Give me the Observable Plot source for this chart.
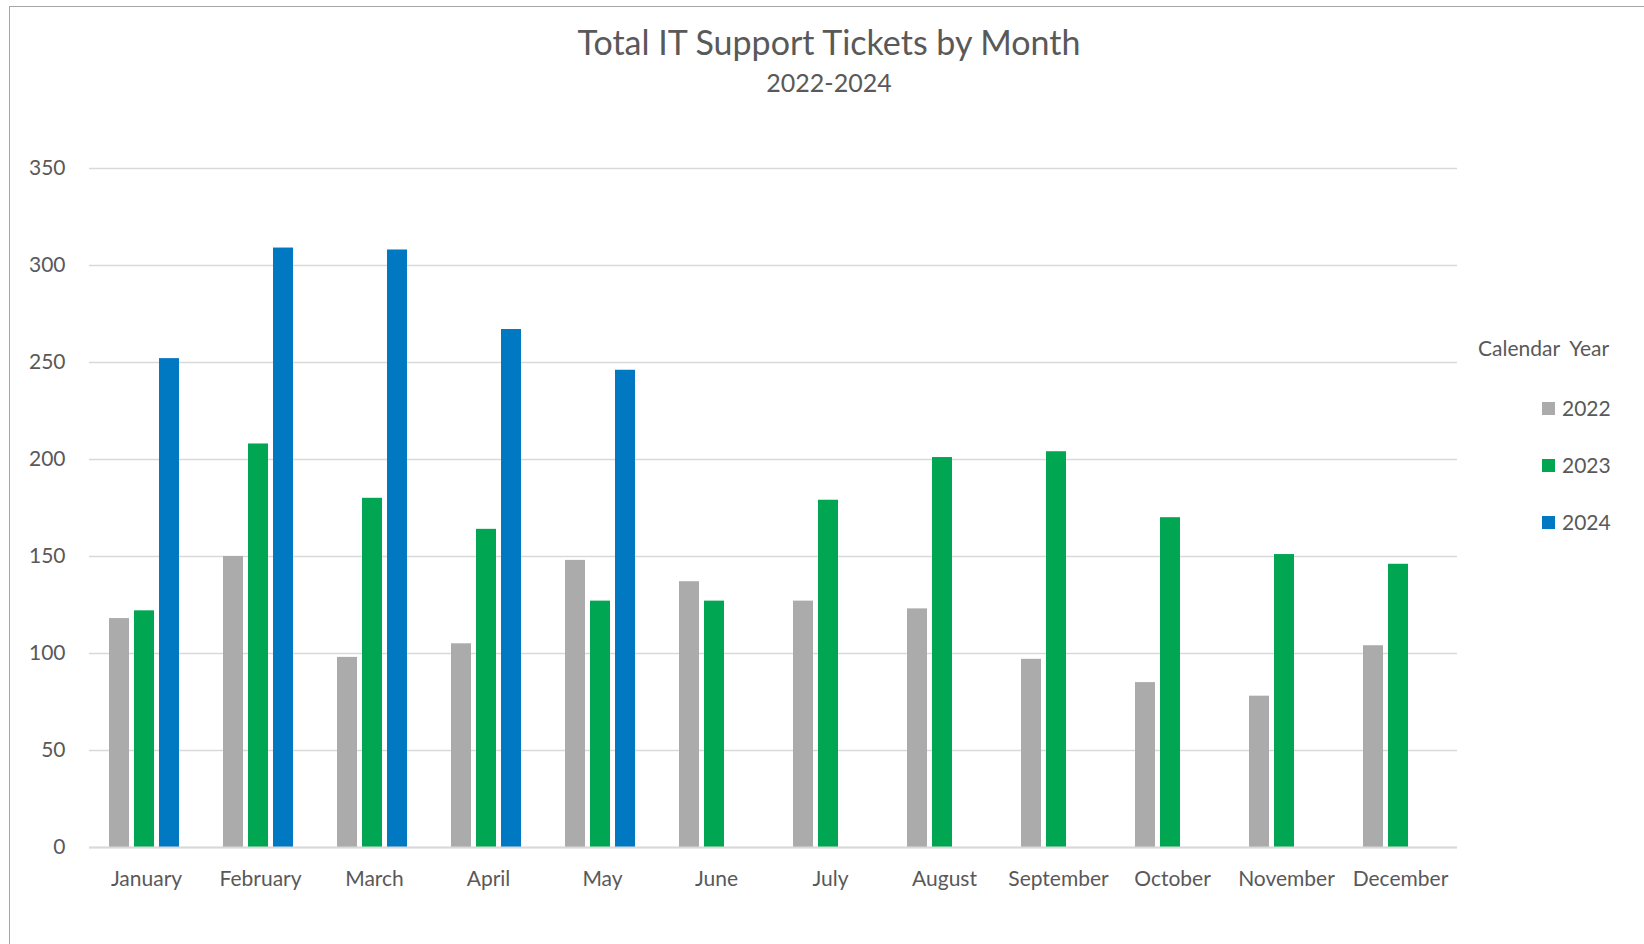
<!DOCTYPE html>
<html>
<head>
<meta charset="utf-8">
<script src="https://cdn.jsdelivr.net/npm/d3@7"></script>
<script src="https://cdn.jsdelivr.net/npm/@observablehq/plot@0.6"></script>
<style>
  html, body { margin: 0; padding: 0; background: #fff; overflow: hidden; }
  #wrap { position: relative; width: 1644px; height: 944px; font-family: Lato, "Open Sans", sans-serif; color: #595959; }
  #frame { position: absolute; left: 9px; top: 6px; width: 1700px; height: 1000px; border-left: 1.5px solid #A6A6A6; border-top: 1.5px solid #A6A6A6; }
  #title { position: absolute; left: 0; width: 1658px; text-align: center; top: 21px; font-size: 34px; line-height: 42px; }
  #subtitle { position: absolute; left: 0; width: 1658px; text-align: center; top: 66px; font-size: 25px; line-height: 32px; }
  #chart { position: absolute; left: 0; top: 140px; }
  #legend { position: absolute; left: 1478px; top: 334px; font-size: 21px; }
  .lg-title { position: absolute; left: 0; top: 0; white-space: nowrap; line-height: 28px; word-spacing: 5px; }
  .lg-item { position: absolute; left: 64px; white-space: nowrap; line-height: 28px; display: flex; align-items: center; }
  .lg-sw { width: 13px; height: 13px; margin-right: 7px; display: inline-block; }
</style>
</head>
<body>
<div id="wrap">
  <div id="frame"></div>
  <div id="title">Total IT Support Tickets by Month</div>
  <div id="subtitle">2022-2024</div>
  <div id="chart"></div>
  <div id="legend"></div>
</div>
<script>
const months = ["January","February","March","April","May","June","July","August","September","October","November","December"];
const years = ["2022","2023","2024"];
const colors = ["#ABABAB","#00A651","#0079C2"];
const v2022 = [118,150,98,105,148,137,127,123,97,85,78,104];
const v2023 = [122,208,180,164,127,127,179,201,204,170,151,146];
const v2024 = [252,309,308,267,246];
const yTicks = [0,50,100,150,200,250,300,350];
const legendTitle = "Calendar Year";

const series = [v2022, v2023, v2024];
const rows = [];
series.forEach((vals, i) => {
  vals.forEach((v, j) => rows.push({month: months[j], year: years[i], value: v}));
});

const chart = Plot.plot({
  width: 1644,
  height: 767,
  marginLeft: 89,
  marginRight: 187,
  marginTop: 28,
  marginBottom: 60,
  style: {fontFamily: "Lato, 'Open Sans', sans-serif", fontSize: "21px", color: "#595959", background: "transparent"},
  fx: {domain: months, padding: 0, label: null, tickSize: 0, tickPadding: 24, axis: "bottom"},
  x: {domain: years, paddingInner: 0.2, paddingOuter: 0.84, align: 0.45, axis: null},
  y: {domain: [0, 350], ticks: yTicks, label: null, tickSize: 0, tickPadding: 24},
  color: {domain: years, range: colors},
  marks: [
    Plot.gridY(yTicks, {stroke: "#D9D9D9", strokeOpacity: 1, strokeWidth: 1.5}),
    Plot.axisY({ticks: yTicks, tickSize: 0, tickPadding: 24, label: null}),
    Plot.barY(rows, {fx: "month", x: "year", y: "value", fill: "year"}),
    Plot.ruleY([0], {stroke: "#D9D9D9", strokeWidth: 2})
  ]
});
document.getElementById("chart").appendChild(chart);

const lg = document.getElementById("legend");
const t = document.createElement("div");
t.className = "lg-title";
t.textContent = legendTitle;
lg.appendChild(t);
years.forEach((y, i) => {
  const it = document.createElement("div");
  it.className = "lg-item";
  it.style.top = (60 + i * 57) + "px";
  const sw = document.createElement("span");
  sw.className = "lg-sw";
  sw.style.background = colors[i];
  it.appendChild(sw);
  const tx = document.createElement("span");
  tx.textContent = y;
  it.appendChild(tx);
  lg.appendChild(it);
});
</script>
</body>
</html>
